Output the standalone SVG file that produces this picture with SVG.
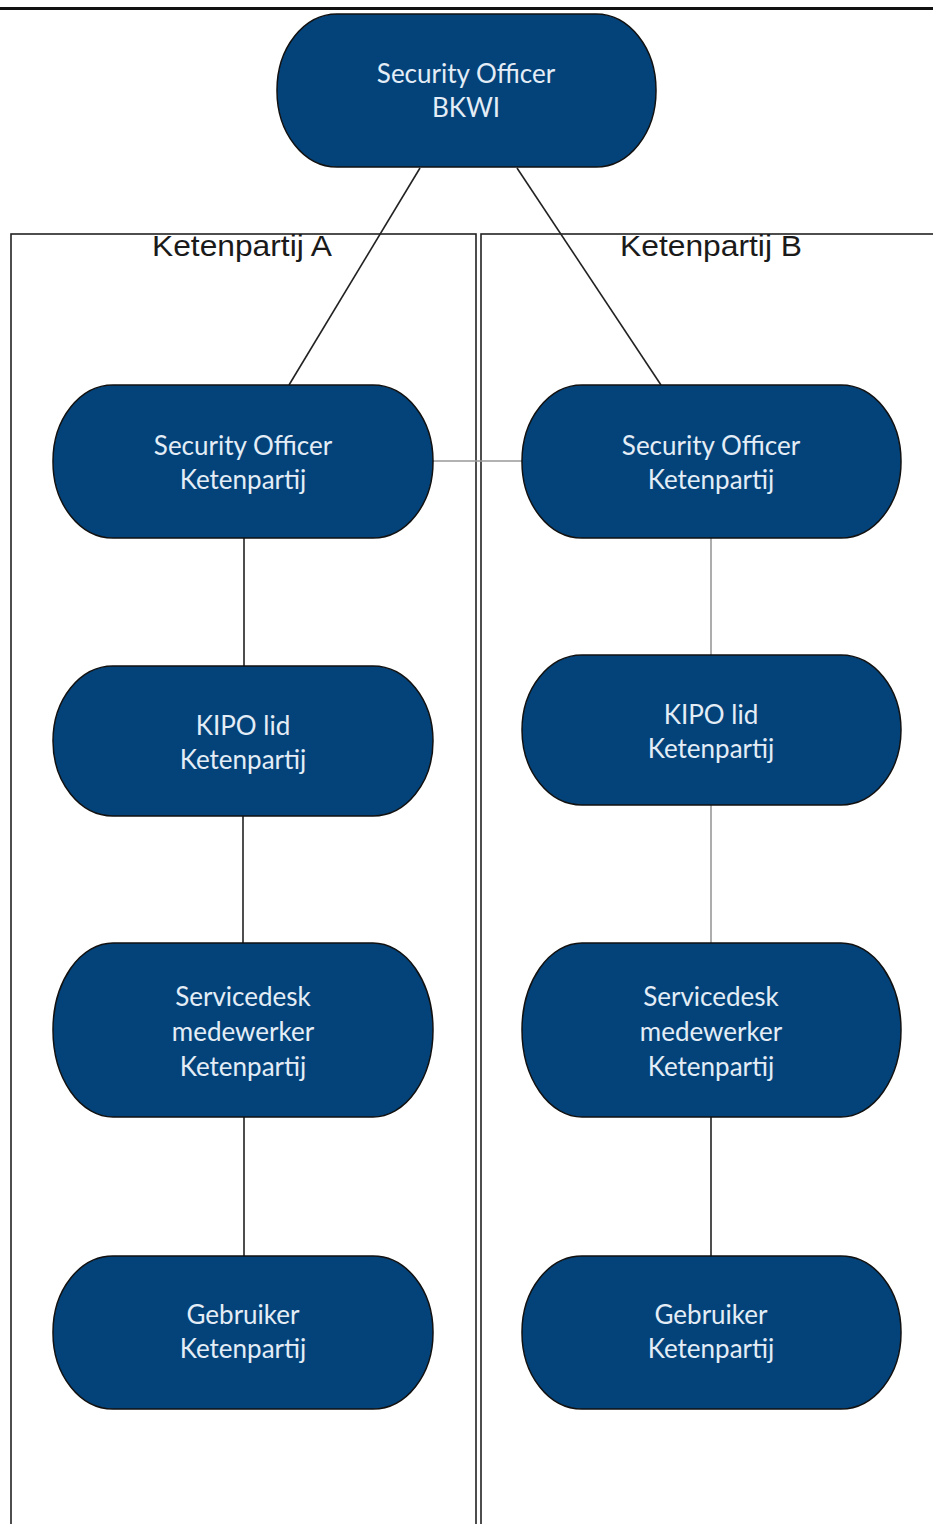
<svg xmlns="http://www.w3.org/2000/svg" width="933" height="1524" viewBox="0 0 933 1524">
<style>
.node{fill:#03437a;stroke:#111;stroke-width:1.5}
.nt{font-family:Lato,"Open Sans",sans-serif;font-size:26px;fill:#e4edf6;text-anchor:middle}
.lane{fill:none;stroke:#222;stroke-width:1.6}
.lt{font-family:"Liberation Sans",Arial,sans-serif;font-size:30px;fill:#1a1a1a;text-anchor:middle}
.c{stroke:#222;stroke-width:1.6;fill:none}
.g{stroke:#999;stroke-width:1.6;fill:none}
</style>
<rect width="933" height="1524" fill="#fff"/>
<line x1="0" y1="8.5" x2="933" y2="8.5" stroke="#111" stroke-width="3"/>
<g id="laneA"><rect class="lane" x="11" y="234" width="465" height="1300"/><text class="lt" x="242" y="256" textLength="180" lengthAdjust="spacingAndGlyphs">Ketenpartij A</text></g>
<g id="laneB"><rect class="lane" x="481" y="234" width="470" height="1300"/><text class="lt" x="711" y="256" textLength="182" lengthAdjust="spacingAndGlyphs">Ketenpartij B</text></g>
<g id="connectors">
<line class="c" x1="420" y1="168" x2="289" y2="385"/>
<line class="c" x1="517" y1="168" x2="661" y2="385"/>
<line class="g" x1="433" y1="461" x2="522" y2="461"/>
<line class="c" x1="244" y1="538" x2="244" y2="666"/>
<line class="c" x1="243" y1="816" x2="243" y2="943"/>
<line class="c" x1="244" y1="1117" x2="244" y2="1256"/>
<line class="g" x1="711" y1="538" x2="711" y2="655"/>
<line class="g" x1="711" y1="805" x2="711" y2="943"/>
<line class="c" x1="711" y1="1117" x2="711" y2="1256"/>
</g>
<g id="soBKWI"><rect class="node" x="277" y="14" width="379" height="153" rx="60" ry="76"/><text class="nt" x="466" y="83">Security Officer</text><text class="nt" x="466" y="117">BKWI</text></g>
<g id="soA"><rect class="node" x="53" y="385" width="380" height="153" rx="60" ry="76"/><text class="nt" x="243" y="455">Security Officer</text><text class="nt" x="243" y="489">Ketenpartij</text></g>
<g id="soB"><rect class="node" x="522" y="385" width="379" height="153" rx="60" ry="76"/><text class="nt" x="711" y="455">Security Officer</text><text class="nt" x="711" y="489">Ketenpartij</text></g>
<g id="kipoA"><rect class="node" x="53" y="666" width="380" height="150" rx="60" ry="75"/><text class="nt" x="243" y="735">KIPO lid</text><text class="nt" x="243" y="769">Ketenpartij</text></g>
<g id="kipoB"><rect class="node" x="522" y="655" width="379" height="150" rx="60" ry="75"/><text class="nt" x="711" y="724">KIPO lid</text><text class="nt" x="711" y="758">Ketenpartij</text></g>
<g id="sdA"><rect class="node" x="53" y="943" width="380" height="174" rx="60" ry="87"/><text class="nt" x="243" y="1006">Servicedesk</text><text class="nt" x="243" y="1041">medewerker</text><text class="nt" x="243" y="1076">Ketenpartij</text></g>
<g id="sdB"><rect class="node" x="522" y="943" width="379" height="174" rx="60" ry="87"/><text class="nt" x="711" y="1006">Servicedesk</text><text class="nt" x="711" y="1041">medewerker</text><text class="nt" x="711" y="1076">Ketenpartij</text></g>
<g id="gebA"><rect class="node" x="53" y="1256" width="380" height="153" rx="60" ry="76"/><text class="nt" x="243" y="1324">Gebruiker</text><text class="nt" x="243" y="1358">Ketenpartij</text></g>
<g id="gebB"><rect class="node" x="522" y="1256" width="379" height="153" rx="60" ry="76"/><text class="nt" x="711" y="1324">Gebruiker</text><text class="nt" x="711" y="1358">Ketenpartij</text></g>
</svg>
